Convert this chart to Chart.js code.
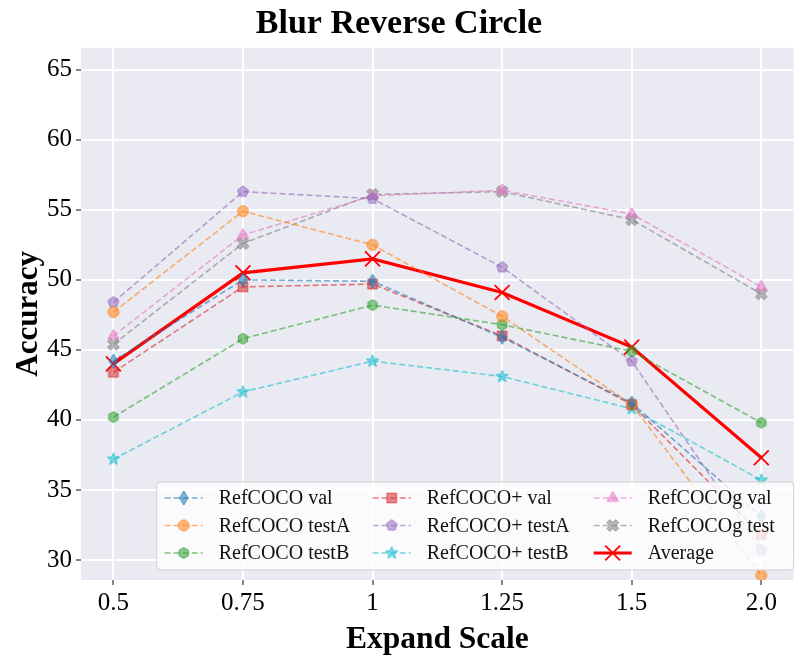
<!DOCTYPE html>
<html lang="en">
<head>
<meta charset="UTF-8">
<title>Blur Reverse Circle</title>
<script src="https://cdn.jsdelivr.net/npm/chart.js"></script>
<style>
  body { margin: 0; background: #ffffff; }
  .wrap { width: 806px; height: 669px; position: relative; }
</style>
</head>
<body>
<div class="wrap"><canvas id="chart"></canvas></div>
<script>
// values
const scales = ['0.5', '0.75', '1', '1.25', '1.5', '2.0'];
const yTicks = [30, 35, 40, 45, 50, 55, 60, 65];

const refcocoVal     = [44.2, 50.0, 49.9, 45.9, 41.2, 33.1];
const refcocoTestA   = [47.7, 54.9, 52.5, 47.4, 41.1, 28.9];
const refcocoTestB   = [40.2, 45.8, 48.2, 46.8, 44.9, 39.8];
const refcocoPVal    = [43.4, 49.5, 49.7, 46.0, 41.1, 31.8];
const refcocoPTestA  = [48.4, 56.3, 55.8, 50.9, 44.2, 30.7];
const refcocoPTestB  = [37.2, 42.0, 44.2, 43.1, 40.8, 35.7];
const refcocogVal    = [46.0, 53.2, 56.0, 56.4, 54.7, 49.5];
const refcocogTest   = [45.4, 52.6, 56.1, 56.3, 54.3, 49.0];
const average        = [44.0, 50.5, 51.5, 49.1, 45.2, 37.3];

const FONT = '"Liberation Serif", "Times New Roman", serif';

// little canvases for the matplotlib style markers
function marker(shape, rgb, size) {
  const s = size + 4;
  const c = document.createElement('canvas');
  c.width = s; c.height = s;
  const g = c.getContext('2d');
  const r = size / 2, cx = s / 2, cy = s / 2;
  g.beginPath();
  const poly = (n, rad, rot) => {
    for (let i = 0; i < n; i++) {
      const a = rot + i * 2 * Math.PI / n;
      const px = cx + rad * Math.cos(a), py = cy + rad * Math.sin(a);
      i ? g.lineTo(px, py) : g.moveTo(px, py);
    }
    g.closePath();
  };
  if (shape === 'circle') {
    g.arc(cx, cy, r * 0.9, 0, Math.PI * 2);
  } else if (shape === 'diamond') {
    g.moveTo(cx, cy - r); g.lineTo(cx + r * 0.6, cy);
    g.lineTo(cx, cy + r); g.lineTo(cx - r * 0.6, cy); g.closePath();
  } else if (shape === 'square') {
    g.rect(cx - r * 0.8, cy - r * 0.8, r * 1.6, r * 1.6);
  } else if (shape === 'hexagon') {
    poly(6, r * 0.9, -Math.PI / 2);
  } else if (shape === 'pentagon') {
    poly(5, r * 0.95, -Math.PI / 2);
  } else if (shape === 'triangle') {
    poly(3, r, -Math.PI / 2);
  } else if (shape === 'star') {
    for (let i = 0; i < 10; i++) {
      const a = -Math.PI / 2 + i * Math.PI / 5;
      const rad = i % 2 ? r * 0.42 : r;
      const px = cx + rad * Math.cos(a), py = cy + rad * Math.sin(a);
      i ? g.lineTo(px, py) : g.moveTo(px, py);
    }
    g.closePath();
  } else if (shape === 'xfill') {
    const w = r * 0.32, L = r * 0.95;
    const pts = [[-w, -L], [w, -L], [w, -w], [L, -w], [L, w], [w, w], [w, L], [-w, L], [-w, w], [-L, w], [-L, -w], [-w, -w]];
    const k = Math.SQRT1_2;
    pts.forEach((p, i) => {
      const px = cx + (p[0] - p[1]) * k, py = cy + (p[0] + p[1]) * k;
      i ? g.lineTo(px, py) : g.moveTo(px, py);
    });
    g.closePath();
  }
  g.fillStyle = `rgba(${rgb},0.55)`;
  g.fill();
  g.strokeStyle = `rgba(${rgb},0.75)`;
  g.lineWidth = 1;
  g.stroke();
  return c;
}

function series(label, data, rgb, shape, size) {
  return {
    label: label,
    data: data.map((v, i) => ({ x: i, y: v })),
    borderColor: `rgba(${rgb},0.6)`,
    backgroundColor: `rgba(${rgb},0.55)`,
    borderWidth: 1.6,
    borderDash: [6, 3],
    pointStyle: marker(shape, rgb, size || 11),
    pointRadius: 6,
    tension: 0
  };
}

const datasets = [
  series('RefCOCO val', refcocoVal, '31,119,180', 'diamond', 14),
  series('RefCOCO testA', refcocoTestA, '255,127,14', 'circle', 12),
  series('RefCOCO testB', refcocoTestB, '44,160,44', 'hexagon', 12),
  series('RefCOCO+ val', refcocoPVal, '214,39,40', 'square', 12),
  series('RefCOCO+ testA', refcocoPTestA, '148,103,189', 'pentagon', 12),
  series('RefCOCO+ testB', refcocoPTestB, '23,190,207', 'star', 13),
  series('RefCOCOg val', refcocogVal, '227,119,194', 'triangle', 13),
  series('RefCOCOg test', refcocogTest, '127,127,127', 'xfill', 13),
  {
    label: 'Average',
    data: average.map((v, i) => ({ x: i, y: v })),
    borderColor: '#ff0000',
    backgroundColor: '#ff0000',
    borderWidth: 3.2,
    pointStyle: 'crossRot',
    pointRadius: 10.5,
    pointBorderWidth: 1.8,
    tension: 0
  }
];

// grey panel behind the plot, like seaborn darkgrid
const panelBg = {
  id: 'panelBg',
  beforeDraw(chart) {
    const a = chart.chartArea, ctx = chart.ctx;
    ctx.save();
    ctx.fillStyle = '#eaeaf2';
    ctx.fillRect(a.left, a.top, a.right - a.left, a.bottom - a.top);
    ctx.restore();
  }
};

// legend drawn inside the axes, 3 columns filled top to bottom
const boxLegend = {
  id: 'boxLegend',
  afterDraw(chart) {
    const ctx = chart.ctx, a = chart.chartArea;
    const ds = chart.data.datasets;
    const boxW = 637, boxH = 88;
    const x0 = a.right - boxW, y0 = a.bottom - 10 - boxH;
    const colX = [8, 216, 437];
    const rowY = [16, 43.5, 71];
    const handle = 38;
    ctx.save();
    ctx.beginPath();
    ctx.roundRect(x0, y0, boxW, boxH, 4);
    ctx.fillStyle = 'rgba(255,255,255,0.8)';
    ctx.fill();
    ctx.strokeStyle = '#d0d0d0';
    ctx.lineWidth = 1;
    ctx.stroke();
    ctx.font = '20px ' + FONT;
    ctx.textBaseline = 'middle';
    ctx.fillStyle = '#111';
    ds.forEach((d, i) => {
      const col = Math.floor(i / 3), row = i % 3;
      const hx = x0 + colX[col], hy = y0 + rowY[row];
      ctx.save();
      ctx.beginPath();
      ctx.strokeStyle = d.borderColor;
      ctx.lineWidth = d.borderWidth;
      ctx.setLineDash(d.borderDash || []);
      ctx.moveTo(hx, hy);
      ctx.lineTo(hx + handle, hy);
      ctx.stroke();
      ctx.restore();
      if (typeof d.pointStyle === 'string') {
        const r = d.pointRadius;
        ctx.save();
        ctx.strokeStyle = d.borderColor;
        ctx.lineWidth = d.pointBorderWidth;
        ctx.beginPath();
        const cx = hx + handle / 2, k = r * Math.SQRT1_2;
        ctx.moveTo(cx - k, hy - k); ctx.lineTo(cx + k, hy + k);
        ctx.moveTo(cx + k, hy - k); ctx.lineTo(cx - k, hy + k);
        ctx.stroke();
        ctx.restore();
      } else {
        const img = d.pointStyle;
        ctx.drawImage(img, hx + handle / 2 - img.width / 2, hy - img.height / 2);
      }
      ctx.fillText(d.label, hx + 54, hy + 1);
    });
    ctx.restore();
  }
};

new Chart(document.getElementById('chart'), {
  type: 'line',
  data: { datasets: datasets },
  plugins: [panelBg, boxLegend],
  options: {
    responsive: true,
    maintainAspectRatio: false,
    animation: false,
    events: [],
    layout: { padding: { left: 4, right: 12, top: 0, bottom: 4 } },
    plugins: {
      legend: { display: false },
      tooltip: { enabled: false },
      title: {
        display: true,
        text: 'Blur Reverse Circle',
        color: '#000',
        font: { family: FONT, size: 34, weight: 'bold' },
        padding: { top: 4, bottom: 3 }
      }
    },
    scales: {
      x: {
        type: 'linear',
        min: -0.25,
        max: 5.25,
        afterBuildTicks(scale) { scale.ticks = scales.map((s, i) => ({ value: i })); },
        afterFit(scale) { scale.height = 85; },
        ticks: {
          callback: (v) => scales[v],
          color: '#000',
          font: { family: FONT, size: 25 },
          padding: 3,
          maxRotation: 0
        },
        grid: { color: '#ffffff', lineWidth: 2, tickColor: '#333', tickLength: 5, tickWidth: 1.2 },
        border: { display: false },
        title: {
          display: true,
          text: 'Expand Scale',
          color: '#000',
          font: { family: FONT, size: 31.5, weight: 'bold' },
          padding: { top: 0, bottom: 6 }
        }
      },
      y: {
        min: 28.57,
        max: 66.57,
        afterBuildTicks(scale) { scale.ticks = yTicks.map(v => ({ value: v })); },
        afterFit(scale) { scale.width = 77; },
        ticks: {
          color: '#000',
          font: { family: FONT, size: 25 },
          padding: 4
        },
        grid: { color: '#ffffff', lineWidth: 2, tickColor: '#333', tickLength: 5, tickWidth: 1.2 },
        border: { display: false },
        title: {
          display: true,
          text: 'Accuracy',
          color: '#000',
          font: { family: FONT, size: 31, weight: 'bold' },
          padding: { top: 6, bottom: 0 }
        }
      }
    }
  }
});
</script>
</body>
</html>
